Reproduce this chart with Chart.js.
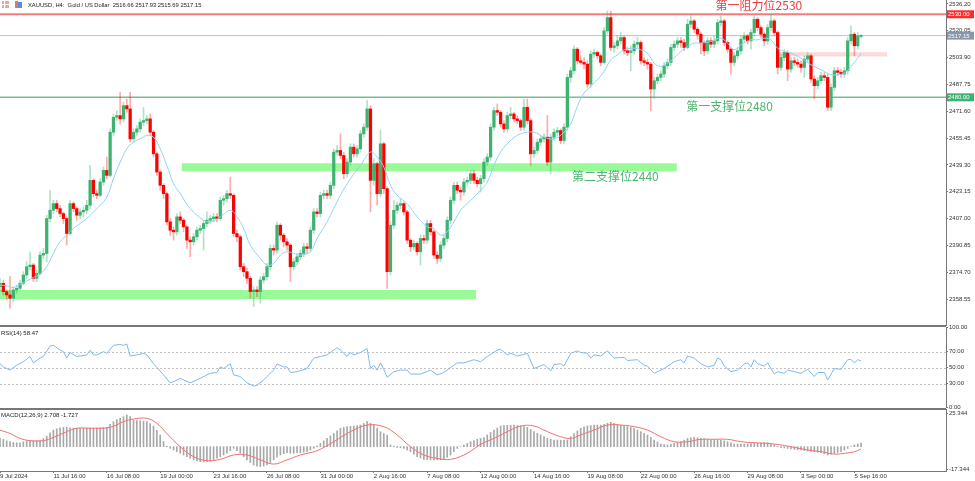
<!DOCTYPE html>
<html>
<head>
<meta charset="utf-8">
<title>XAUUSD H4</title>
<script src="https://cdn.jsdelivr.net/npm/chart.js@4.4.1/dist/chart.umd.min.js"></script>
<style>
  html, body { margin: 0; padding: 0; background: #fff; }
  #wrap { position: relative; width: 975px; height: 481px; overflow: hidden; background: #fff; }
  #wrap canvas { position: absolute; left: 0; }
  #mainChart { top: 0; }
  #rsiChart { top: 322px; }
  #macdChart { top: 409px; }
</style>
</head>
<body>
<div id="wrap">
  <canvas id="mainChart" width="975" height="326"></canvas>
  <canvas id="rsiChart" width="975" height="92"></canvas>
  <canvas id="macdChart" width="975" height="72"></canvas>
</div>
<script>
// H4 bars, index 0 = 9 Jul 2024 00:00
const opens = [
  2366,2368,2363,2361,2359,2364,2365,2368,2373,2378,
  2379,2371,2374,2385,2386,2407,2412,2416,2413,2410,
  2407,2398,2416,2413,2409,2411,2412,2415,2430,2422,
  2421,2429,2436,2433,2459,2468,2469,2467,2475,2473,
  2455,2459,2461,2465,2466,2467,2459,2446,2435,2427,
  2422,2405,2400,2399,2408,2406,2402,2394,2393,2396,
  2400,2401,2404,2406,2407,2408,2407,2418,2419,2422,
  2421,2398,2396,2378,2375,2371,2363,2364,2363,2370,
  2372,2378,2389,2388,2403,2397,2393,2391,2378,2381,
  2384,2386,2390,2389,2400,2411,2410,2421,2422,2421,
  2427,2447,2448,2445,2434,2441,2450,2446,2449,2458,
  2462,2473,2430,2440,2422,2452,2425,2375,2403,2412,
  2415,2416,2411,2394,2390,2392,2387,2395,2394,2404,
  2399,2385,2383,2391,2395,2406,2418,2427,2424,2423,
  2429,2430,2434,2430,2428,2431,2441,2444,2462,2472,
  2471,2464,2461,2469,2470,2467,2466,2462,2474,2466,
  2446,2448,2453,2455,2456,2441,2456,2459,2460,2454,
  2462,2492,2496,2509,2502,2501,2500,2488,2506,2507,
  2505,2501,2520,2528,2510,2511,2514,2516,2508,2507,
  2508,2512,2513,2502,2501,2500,2485,2490,2492,2494,
  2499,2501,2510,2512,2514,2513,2510,2524,2526,2521,
  2518,2513,2508,2514,2512,2514,2525,2526,2513,2509,
  2501,2505,2508,2515,2517,2514,2519,2527,2522,2518,
  2514,2522,2526,2519,2498,2504,2507,2497,2502,2501,
  2500,2498,2503,2505,2491,2487,2490,2493,2492,2474,
  2486,2496,2495,2494,2496,2514,2518,2511,2516.66
];
const highs = [
  2371,2370,2364,2372,2366,2367,2370,2375,2381,2387,
  2380,2376,2387,2389,2409,2424,2418,2418,2415,2411,
  2408,2418,2417,2414,2413,2414,2418,2439,2431,2424,
  2431,2438,2444,2461,2470,2472,2483,2477,2479,2483,
  2461,2463,2467,2474,2469,2470,2460,2447,2436,2428,
  2423,2407,2402,2410,2411,2407,2403,2396,2398,2402,
  2403,2406,2411,2409,2410,2410,2420,2421,2424,2432,
  2422,2400,2397,2380,2377,2372,2366,2366,2372,2374,
  2380,2391,2391,2405,2404,2398,2395,2392,2383,2386,
  2388,2392,2392,2402,2413,2413,2423,2424,2424,2429,
  2449,2451,2458,2447,2443,2452,2452,2451,2460,2464,
  2478,2475,2443,2441,2460,2453,2426,2405,2418,2417,
  2419,2417,2412,2395,2394,2393,2397,2397,2406,2406,
  2400,2387,2393,2397,2408,2420,2429,2429,2426,2431,
  2432,2436,2436,2432,2433,2443,2446,2464,2474,2476,
  2472,2466,2471,2474,2471,2469,2467,2479,2479,2467,
  2450,2455,2457,2458,2469,2458,2461,2462,2461,2464,
  2494,2498,2511,2510,2505,2504,2502,2508,2509,2508,
  2506,2522,2532,2532,2513,2517,2519,2517,2510,2511,
  2514,2516,2514,2504,2503,2501,2492,2494,2496,2501,
  2503,2512,2514,2516,2516,2515,2527,2529,2527,2522,
  2519,2514,2516,2516,2517,2527,2529,2527,2514,2510,
  2507,2510,2517,2519,2518,2521,2529,2528,2523,2519,
  2524,2530,2527,2520,2506,2509,2508,2504,2504,2503,
  2502,2505,2507,2506,2493,2492,2495,2495,2494,2488,
  2498,2498,2497,2498,2516,2523,2519,2519,2517.93
];
const lows = [
  2363,2361,2358,2353,2357,2362,2364,2367,2371,2376,
  2369,2369,2373,2383,2381,2405,2410,2411,2408,2404,
  2391,2397,2411,2406,2407,2408,2410,2413,2420,2419,
  2420,2427,2431,2432,2457,2466,2464,2465,2471,2453,
  2453,2457,2459,2463,2464,2457,2444,2433,2424,2419,
  2403,2397,2394,2397,2404,2399,2389,2384,2391,2394,
  2398,2388,2402,2404,2405,2405,2406,2415,2417,2419,
  2396,2393,2376,2372,2368,2359,2354,2360,2356,2368,
  2370,2376,2385,2386,2394,2390,2388,2369,2376,2379,
  2382,2384,2386,2387,2398,2408,2408,2419,2419,2419,
  2425,2445,2443,2431,2432,2439,2444,2444,2447,2456,
  2460,2411,2427,2415,2420,2422,2365,2373,2401,2410,
  2413,2409,2392,2387,2388,2385,2379,2392,2392,2397,
  2383,2380,2381,2389,2393,2404,2416,2422,2418,2421,
  2427,2428,2428,2426,2423,2429,2439,2442,2460,2469,
  2462,2459,2459,2467,2465,2464,2460,2460,2464,2439,
  2444,2446,2451,2453,2439,2434,2454,2457,2452,2452,
  2460,2489,2494,2500,2500,2497,2486,2486,2504,2503,
  2499,2500,2518,2508,2507,2509,2512,2506,2505,2496,
  2506,2510,2500,2499,2497,2472,2479,2488,2490,2492,
  2497,2499,2508,2510,2510,2508,2509,2522,2519,2515,
  2506,2505,2506,2510,2510,2512,2523,2511,2507,2494,
  2499,2503,2506,2513,2512,2509,2517,2520,2516,2511,
  2512,2520,2517,2494,2496,2502,2490,2495,2499,2498,
  2495,2492,2501,2489,2479,2485,2488,2490,2472,2472,
  2484,2493,2492,2492,2494,2512,2505,2509,2515.69
];
const closes = [
  2368,2363,2361,2359,2364,2365,2368,2373,2378,2379,
  2371,2374,2385,2386,2407,2412,2416,2413,2410,2407,
  2398,2416,2413,2409,2411,2412,2415,2430,2422,2421,
  2429,2436,2433,2459,2468,2469,2467,2475,2473,2455,
  2459,2461,2465,2466,2467,2459,2446,2435,2427,2422,
  2405,2400,2399,2408,2406,2402,2394,2393,2396,2400,
  2401,2404,2406,2407,2408,2407,2418,2419,2422,2421,
  2398,2396,2378,2375,2371,2363,2364,2363,2370,2372,
  2378,2389,2388,2403,2397,2393,2391,2378,2381,2384,
  2386,2390,2389,2400,2411,2410,2421,2422,2421,2427,
  2447,2448,2445,2434,2441,2450,2446,2449,2458,2462,
  2473,2430,2440,2422,2452,2425,2375,2403,2412,2415,
  2416,2411,2394,2390,2392,2387,2395,2394,2404,2399,
  2385,2383,2391,2395,2406,2418,2427,2424,2423,2429,
  2430,2434,2430,2428,2431,2441,2444,2462,2472,2471,
  2464,2461,2469,2470,2467,2466,2462,2474,2466,2446,
  2448,2453,2455,2456,2441,2456,2459,2460,2454,2462,
  2492,2496,2509,2502,2501,2500,2488,2506,2507,2505,
  2501,2520,2528,2510,2511,2514,2516,2508,2507,2508,
  2512,2513,2502,2501,2500,2485,2490,2492,2494,2499,
  2501,2510,2512,2514,2513,2510,2524,2526,2521,2518,
  2513,2508,2514,2512,2514,2525,2526,2513,2509,2501,
  2505,2508,2515,2517,2514,2519,2527,2522,2518,2514,
  2522,2526,2519,2498,2504,2507,2497,2502,2501,2500,
  2498,2503,2505,2491,2487,2490,2493,2492,2474,2486,
  2496,2495,2494,2496,2514,2518,2511,2517,2517.15
];

// moving average (light blue), read at these bars
const maIdx = [
  0,2,4,6,8,10,12,14,16,18,20,22,24,26,28,30,32,34,36,38,
  40,42,44,46,48,50,52,54,57,61,63,66,69,71,73,75,78,80,82,84,
  86,88,90,93,95,98,100,102,105,108,111,113,115,117,119,122,125,128,130,132,
  134,136,138,141,144,146,148,150,153,156,160,163,166,169,171,173,175,177,179,181,
  183,185,187,190,192,194,196,198,200,202,204,206,208,210,213,216,218,220,222,225,
  227,229,231,233,235,237,240,243,246,249,251,253,255,257,258
];
const maVal = [
  2367,2366.4,2365.4,2367.4,2369.4,2371.5,2373.5,2378,2386,2393,
  2397,2401,2404,2407,2411,2415,2420,2431,2441,2449,
  2453,2455,2457,2456,2449,2439,2428,2422,2413,2406,
  2405,2408,2412,2408,2401,2391,2383,2379,2380,2385,
  2387,2386,2385,2387,2395,2405,2413,2421,2431,2439,
  2447,2444,2438,2427,2421,2416,2408,2402,2401,2397,
  2399,2405,2412,2418,2424,2429,2439,2447,2454,2458,
  2459,2456,2455,2459,2464,2474.6,2482.6,2486.6,2490.6,2495.6,
  2502.6,2505.6,2508.6,2509.6,2508.6,2506.6,2500.6,2498.6,2500.6,2503.6,
  2507.6,2510.6,2512.6,2512.6,2513.6,2515.6,2512.6,2508.6,2511.6,2514.6,
  2514.6,2515.6,2514.6,2509.6,2507.6,2506.6,2503.6,2499.6,2496.6,2493.6,
  2493.6,2494.6,2498.6,2503.6,2506.6
];

// RSI(14)
const rsiIdx = [
  0,1,3,5,7,9,10,12,13,15,16,18,19,20,21,23,26,27,28,29,
  31,32,34,36,37,38,39,41,43,44,46,49,51,52,54,57,60,63,65,66,
  67,69,70,72,74,76,77,79,80,82,83,85,86,87,89,92,94,96,98,101,
  102,104,105,106,108,110,111,112,113,114,115,116,118,120,122,123,126,129,131,133,
  137,139,142,144,146,149,150,152,153,155,158,160,163,165,166,168,169,171,173,174,
  176,177,178,180,182,184,187,188,191,193,194,196,199,202,204,205,206,208,210,212,
  214,215,216,217,219,221,223,224,225,226,227,229,230,232,233,235,236,238,240,242,
  244,245,247,248,250,252,254,255,256,257,258
];
const rsiVal = [
  55,51,47,53,57.5,64,56,62,64,77,78,72,70,62,69,64,66,72,66,66,
  70,68,78,79,78,79.6,64.6,66,68,66,55,41,31,32.5,36.7,31,36.7,43,44,51,
  49,55,41,39,31,27,28,34.6,39,47,54.6,51,51,44,45,49,62,64,66,75,
  72,64,69,66,69,74,49,53,47,56,48,38,45,47,47,42,42,47,41,44,
  56,56,60,57.5,64,72,73,66,68,64.6,68,49,54,46,54,55,52,68,71,69,
  68,62,66,64.6,71,62,63,59,60,53,52,43,49,57.5,60,56,64.6,62,55,51,
  53,62,60,52,45,47,54.6,56,51,60,55,52,56,42,45,43,47,45,43,48,
  39,44,44,34.6,49,48,60,60.4,56,60,58.47
];
const rsiLevels = [30, 50, 70];
const rsiTicks = [0, 30, 50, 70, 100];

// MACD(12,26,9): main as histogram, signal as line
const macdMain = [
  6.3,5.6,4.5,3.8,3.2,3.0,3.0,3.6,4.3,4.5,
  4.6,4.8,5.0,6.2,8.0,10.5,12.6,13.6,14.4,14.6,
  14.7,14.3,14.0,14.0,14.0,14.0,14.0,14.2,14.0,14.2,
  14.4,14.5,14.7,17.0,19.0,20.5,21.5,22.8,24.0,22.8,
  20.2,19.9,19.7,19.4,19.0,17.5,15.7,12.5,8.9,3.8,
  0.3,-1.2,-2.5,-3.8,-5.0,-6.3,-7.6,-8.8,-10.0,-10.8,
  -11.4,-11.5,-11.4,-10.8,-10.0,-8.8,-7.6,-6.3,-5.0,-3.0,
  -1.3,-3.0,-5.0,-7.5,-10.0,-12.0,-13.9,-14.7,-15.2,-14.7,
  -13.9,-12.0,-10.0,-8.0,-6.3,-5.3,-4.6,-5.0,-5.0,-4.8,
  -4.6,-4.2,-3.8,-2.6,-1.3,0.6,2.5,4.4,6.3,8.2,
  10.0,12.0,14.0,14.6,15.2,15.5,15.7,16.0,16.4,17.6,
  19.0,17.8,16.4,14.0,11.4,10.0,8.9,1.3,0.4,-0.5,
  -0.9,-1.3,-2.5,-3.8,-5.6,-7.6,-8.6,-9.6,-9.8,-10.0,
  -10.0,-10.0,-9.8,-9.6,-8.0,-6.3,-3.8,-1.3,0.0,1.3,
  2.5,3.8,4.7,5.6,6.3,7.0,8.9,10.8,12.6,14.2,
  15.7,16.0,16.2,16.3,16.4,16.0,15.7,15.2,14.7,13.0,
  11.4,10.2,8.9,7.6,6.3,5.6,5.0,5.0,5.0,5.0,
  5.0,7.5,10.0,12.0,14.0,15.0,15.7,16.0,16.4,16.4,
  16.4,17.0,17.7,18.5,17.7,17.0,16.4,15.8,15.2,14.6,
  14.0,12.7,11.4,10.2,8.9,7.0,5.0,3.5,2.0,1.6,
  1.3,1.9,2.5,3.2,3.8,5.0,6.3,6.7,7.0,6.7,
  6.3,6.0,5.6,5.3,5.0,5.0,5.0,4.4,3.8,2.9,
  2.0,2.0,2.0,2.0,2.0,2.3,2.5,2.8,3.0,3.0,
  3.0,2.2,1.3,0.2,-0.8,-1.0,-1.3,-1.6,-2.0,-2.2,
  -2.5,-2.9,-3.3,-3.6,-3.8,-4.2,-4.6,-5.4,-6.3,-5.6,
  -5.0,-4.4,-3.8,-2.5,-1.3,0.0,1.3,2.0,2.708
];
const sigIdx = [
  0,3,6,9,13,16,20,23,27,33,37,40,44,47,50,54,58,62,66,70,
  74,78,82,86,90,95,100,105,110,115,119,123,127,131,135,140,144,148,152,156,
  160,164,168,171,174,178,182,186,190,194,198,202,206,210,214,218,222,226,230,234,
  238,242,246,250,253,256,258
];
const sigVal = [
  12.6,10,6.3,4.6,4.6,7,11.4,14,14,14.7,19,21,21.5,17.7,10,0,-7.6,-10.6,-9.6,-6.3,
  -6.3,-10,-13.2,-10,-6.3,-3,3.8,11.4,16.4,15.2,8.9,0,-6.3,-8.9,-9.6,-5,1.8,6.3,11.4,15.7,
  15.7,11.4,7.6,6.3,8.9,12.6,16.4,16.4,15.2,12.6,7.6,3.8,3.8,5.6,5.6,5.6,3.8,3,2.5,1.3,
  -0.5,-2.5,-3.8,-5.6,-5,-3.8,-1.727
];
const macdTicks = [-17.344, 25.344];

// axes
const priceTicks = [2358.55, 2374.70, 2390.85, 2407.00, 2423.15, 2439.30, 2455.45, 2471.60, 2487.75, 2503.90, 2520.05, 2536.20];
const xTickIdx = [0, 16, 32, 48, 64, 80, 96, 112, 128, 144, 160, 176, 192, 208, 224, 240, 256];
const xTickLabels = ['9 Jul 2024', '11 Jul 16:00', '16 Jul 08:00', '19 Jul 00:00', '23 Jul 16:00', '26 Jul 08:00',
  '31 Jul 00:00', '2 Aug 16:00', '7 Aug 08:00', '12 Aug 00:00', '14 Aug 16:00', '19 Aug 08:00',
  '22 Aug 00:00', '26 Aug 16:00', '29 Aug 08:00', '3 Sep 00:00', '5 Sep 16:00'];

// drawn levels and zones (price, bar index)
const levelVals = [2530, 2480, 2517.15];
const zoneLo = [2358.5, 2435.5, 2504.6];
const zoneHi = [2364.0, 2440.3, 2507.2];
const zoneFrom = [0, 54.5, 232.8];
const zoneTo = [142.6, 202.8, 265.8];

const levelColors = ['#f47c7c', '#74c08e', '#b9c3cf'];
const levelWidths = [2, 1.5, 1];
const boxColors = ['#ff2b2b', '#3cb371', '#8797aa'];
const zoneColors = ['#98fb98', '#98fb98', '#fcdada'];
const notes = [
  { text: '第一阻力位2530', at: 227.4, price: 2535.2, color: '#ec3d3d' },
  { text: '第一支撑位2480', at: 218.6, price: 2474.4, color: '#4fb472' },
  { text: '第二支撑位2440', at: 184.4, price: 2432.2, color: '#4fb472' }
];

const xMin = 0;
const xMax = 283.45;
const GREEN = '#3cb371';
const RED = '#ff0000';
const SMALL = { family: 'Liberation Sans', size: 6 };
const SMALL_CSS = '6px "Liberation Sans", Arial, sans-serif';

const hiddenX = () => ({
  type: 'linear', min: xMin, max: xMax, offset: false, display: false, grid: { offset: false }
});

const rightAxis = (vals, digits, min, max) => ({
  position: 'right', min, max,
  afterBuildTicks: s => { s.ticks = vals.map(v => ({ value: v })); },
  afterFit: s => { s.width = 29; s.paddingTop = 0; s.paddingBottom = 0; },
  grid: { display: true, drawOnChartArea: false, drawTicks: true, tickLength: 2, color: '#777' },
  border: { display: true, color: '#777' },
  ticks: { font: SMALL, color: '#333', padding: 1, autoSkip: false, callback: v => Number(v).toFixed(digits) }
});

const baseOpts = () => ({
  responsive: false, animation: false, devicePixelRatio: 1,
  plugins: { legend: { display: false }, tooltip: { enabled: false } }
});

const mainDecor = {
  id: 'mainDecor',
  beforeDatasetsDraw(chart) {
    const { ctx, chartArea: a, scales: { x, y } } = chart;
    ctx.save();
    zoneLo.forEach((lo, k) => {
      const x0 = x.getPixelForValue(zoneFrom[k]);
      const x1 = x.getPixelForValue(zoneTo[k]);
      const y0 = y.getPixelForValue(zoneHi[k]);
      const y1 = y.getPixelForValue(lo);
      ctx.fillStyle = zoneColors[k];
      ctx.fillRect(x0, y0, x1 - x0, y1 - y0);
    });
    levelVals.forEach((v, k) => {
      const py = y.getPixelForValue(v);
      ctx.strokeStyle = levelColors[k];
      ctx.lineWidth = levelWidths[k];
      ctx.beginPath();
      ctx.moveTo(a.left, py);
      ctx.lineTo(a.right, py);
      ctx.stroke();
    });
    ctx.restore();
  },
  afterDraw(chart) {
    const { ctx, chartArea: a, scales: { x, y } } = chart;
    ctx.save();
    // annotations
    ctx.font = '12px "Noto Sans CJK SC", sans-serif';
    ctx.textAlign = 'center';
    ctx.textBaseline = 'middle';
    notes.forEach(n => {
      ctx.fillStyle = n.color;
      ctx.fillText(n.text, x.getPixelForValue(n.at), y.getPixelForValue(n.price));
    });
    // price boxes on the scale
    ctx.font = SMALL_CSS;
    ctx.textAlign = 'left';
    levelVals.forEach((v, k) => {
      const py = y.getPixelForValue(v);
      ctx.fillStyle = boxColors[k];
      ctx.fillRect(a.right + 1, py - 4, 27, 8);
      ctx.fillStyle = '#fff';
      ctx.fillText(v.toFixed(2), a.right + 2, py + 0.5);
    });
    // header
    ctx.fillStyle = '#e9a3a3';
    ctx.fillRect(2, 1, 7, 7);
    ctx.strokeStyle = '#fff';
    ctx.lineWidth = 1;
    ctx.strokeRect(4.5, 1.5, 0.1, 6);
    ctx.strokeRect(2, 4.5, 7, 0.1);
    ctx.fillStyle = '#e57373';
    ctx.fillRect(15, 1, 3, 7);
    ctx.fillStyle = '#5b8fd8';
    ctx.fillRect(18, 2, 4, 6);
    ctx.fillStyle = '#222';
    ctx.font = '5.8px "Liberation Sans", Arial, sans-serif';
    ctx.textBaseline = 'middle';
    ctx.fillText('XAUUSD, H4:  Gold / US Dollar  2516.66 2517.93 2515.69 2517.15', 28, 5);
    ctx.restore();
  }
};

const rsiDecor = {
  id: 'rsiDecor',
  beforeDatasetsDraw(chart) {
    const { ctx, chartArea: a, scales: { y } } = chart;
    ctx.save();
    ctx.strokeStyle = '#c4c4c4';
    ctx.lineWidth = 1;
    ctx.setLineDash([2, 2]);
    rsiLevels.forEach(v => {
      const py = Math.round(y.getPixelForValue(v)) + 0.5;
      ctx.beginPath();
      ctx.moveTo(a.left, py);
      ctx.lineTo(a.right, py);
      ctx.stroke();
    });
    ctx.restore();
  },
  afterDraw(chart) {
    const { ctx, chartArea: a } = chart;
    ctx.save();
    ctx.strokeStyle = '#777';
    ctx.lineWidth = 2;
    [4, 87].forEach(py => {
      ctx.beginPath();
      ctx.moveTo(0, py);
      ctx.lineTo(a.right, py);
      ctx.stroke();
    });
    ctx.fillStyle = '#222';
    ctx.font = SMALL_CSS;
    ctx.textBaseline = 'middle';
    ctx.fillText('RSI(14) 58.47', 1, 11);
    ctx.restore();
  }
};

const macdDecor = {
  id: 'macdDecor',
  afterDraw(chart) {
    const { ctx } = chart;
    ctx.save();
    ctx.fillStyle = '#222';
    ctx.font = SMALL_CSS;
    ctx.textBaseline = 'middle';
    ctx.fillText('MACD(12,26,9) 2.708 -1.727', 1, 6);
    ctx.restore();
  }
};

const init = () => {
  const mainOpts = baseOpts();
  mainOpts.layout = { padding: 0 };
  mainOpts.scales = { x: hiddenX(), y: rightAxis(priceTicks, 2, 2342.3, 2538.6) };

  new Chart(document.getElementById('mainChart'), {
    type: 'bar',
    data: {
      datasets: [
        {
          type: 'line',
          data: maIdx.map((i, k) => ({ x: i, y: maVal[k] })),
          borderColor: '#8fd3f7', borderWidth: 1, pointRadius: 0, tension: 0.4, order: 1
        },
        {
          data: closes.map((c, i) => ({ x: i, y: [lows[i], highs[i]] })),
          backgroundColor: c => closes[c.dataIndex] >= opens[c.dataIndex] ? 'rgba(60,179,113,0.4)' : 'rgba(255,0,0,0.33)',
          barThickness: 1, grouped: false, borderWidth: 0, order: 3
        },
        {
          data: closes.map((c, i) => ({ x: i, y: [opens[i], c] })),
          backgroundColor: c => closes[c.dataIndex] >= opens[c.dataIndex] ? GREEN : RED,
          barThickness: 2.6, minBarLength: 1, grouped: false, borderWidth: 0, order: 2
        }
      ]
    },
    options: mainOpts,
    plugins: [mainDecor]
  });

  const rsiOpts = baseOpts();
  rsiOpts.layout = { padding: { top: 5.7, bottom: 6.3, left: 0, right: 0 } };
  rsiOpts.scales = { x: hiddenX(), y: rightAxis(rsiTicks, 2, 0, 100) };

  new Chart(document.getElementById('rsiChart'), {
    type: 'line',
    data: {
      datasets: [{
        data: rsiIdx.map((i, k) => ({ x: i, y: rsiVal[k] })),
        borderColor: '#7fb9f2', borderWidth: 1, pointRadius: 0, tension: 0
      }]
    },
    options: rsiOpts,
    plugins: [rsiDecor]
  });

  const macdOpts = baseOpts();
  macdOpts.layout = { padding: 0 };
  macdOpts.scales = {
    x: {
      type: 'linear', min: xMin, max: xMax, offset: false, position: 'bottom',
      afterBuildTicks: s => { s.ticks = xTickIdx.map(v => ({ value: v })); },
      afterFit: s => { s.height = 10; s.paddingLeft = 0; s.paddingRight = 0; },
      grid: { drawOnChartArea: false, drawTicks: true, tickLength: 2, color: '#777', offset: false },
      border: { display: true, color: '#777' },
      ticks: {
        font: SMALL, color: '#333', padding: 0, align: 'start', maxRotation: 0, minRotation: 0,
        autoSkip: false, callback: (v, k) => xTickLabels[k]
      }
    },
    y: rightAxis(macdTicks, 3, -18.44, 28.6)
  };

  new Chart(document.getElementById('macdChart'), {
    type: 'bar',
    data: {
      datasets: [
        {
          type: 'line',
          data: sigIdx.map((i, k) => ({ x: i, y: sigVal[k] })),
          borderColor: '#f27070', borderWidth: 1, pointRadius: 0, tension: 0.4, order: 1
        },
        {
          data: macdMain.map((v, i) => ({ x: i, y: v })),
          backgroundColor: '#a8a8a8', barThickness: 1, grouped: false, borderWidth: 0, order: 2
        }
      ]
    },
    options: macdOpts,
    plugins: [macdDecor]
  });
};

window.addEventListener('load', init);
</script>
</body>
</html>
